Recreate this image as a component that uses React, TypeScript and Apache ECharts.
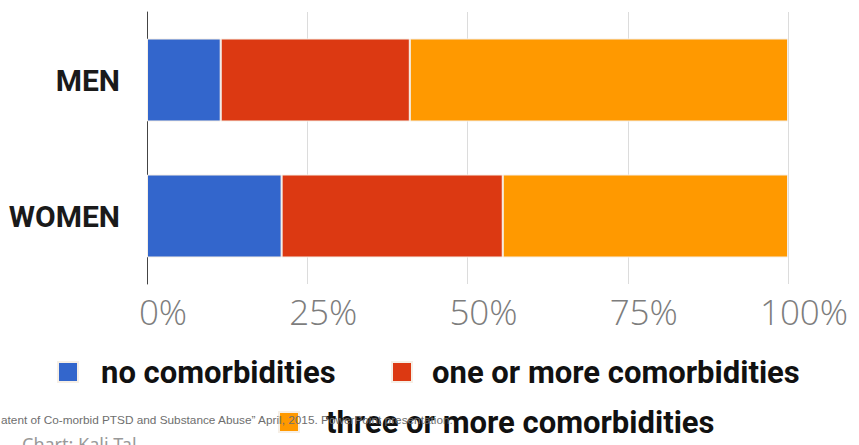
import React, { useEffect, useRef } from "react";
import * as echarts from "echarts";

const categories = ["MEN", "WOMEN"];
const seriesNames = ["no comorbidities", "one or more comorbidities", "three or more comorbidities"];
const noComorbidities = [11.5, 21];
const oneOrMore = [29.5, 34.5];
const threeOrMore = [59, 44.5];
const tickValues = [0, 25, 50, 75, 100];
const colors = ["#3366cc", "#dc3912", "#ff9900"];
const sourceText = "atent of Co-morbid PTSD and Substance Abuse\u201d April, 2015. PowerPoint presentation.";
const creditText = "Chart: Kali Tal";

const boldFont = 'Roboto, "Noto Sans", sans-serif';

export default function App() {
  const ref = useRef<HTMLDivElement>(null);
  useEffect(() => {
    if (!ref.current) return;
    const chart = echarts.init(ref.current, null, { renderer: "svg" });
    const values = [noComorbidities, oneOrMore, threeOrMore];
    const legendPos = [
      { left: 57, top: 352, pad: 18 },
      { left: 391, top: 352, pad: 15 },
      { left: 278, top: 402, pad: 22 },
    ];
    chart.setOption({
      animation: false,
      backgroundColor: "#ffffff",
      grid: { left: 147, right: 71, top: 12, bottom: 161, containLabel: false, outerBoundsMode: "none" },
      xAxis: {
        type: "value",
        min: 0,
        max: 100,
        interval: 25,
        axisLine: { show: false },
        axisTick: { show: false },
        splitLine: { show: true, lineStyle: { color: "#dcdcdc", width: 1 } },
        axisLabel: {
          formatter: (v: number) => (tickValues.includes(v) ? v + "%" : ""),
          fontFamily: '"Open Sans", "Noto Sans", sans-serif',
          fontWeight: 300,
          fontSize: 35,
          color: "#7d7d7d",
          margin: 10,
          padding: [0, 0, 0, 32],
        },
      },
      yAxis: {
        type: "category",
        data: categories,
        inverse: true,
        axisLine: { show: true, lineStyle: { color: "#444", width: 1 } },
        axisTick: { show: false },
        axisLabel: {
          fontFamily: boldFont,
          fontWeight: "bold",
          fontSize: 30,
          color: "#1a1a1a",
          margin: 27,
        },
      },
      legend: seriesNames.map((n, i) => ({
        data: [{ name: n, icon: "rect" }],
        left: legendPos[i].left,
        top: legendPos[i].top,
        padding: 0,
        itemWidth: 20,
        itemHeight: 20,
        selectedMode: false,
        textStyle: {
          fontFamily: boldFont,
          fontWeight: "bold",
          fontSize: 31,
          color: "#111",
          lineHeight: 40,
          padding: [0, 0, 0, legendPos[i].pad],
        },
      })),
      graphic: [
        {
          type: "text",
          left: 1,
          top: 414,
          z: 100,
          style: {
            text: sourceText,
            fontFamily: '"Liberation Sans", sans-serif',
            fontSize: 11.8,
            fill: "#6e6e6e",
          },
        },
        {
          type: "text",
          left: 22,
          top: 435,
          z: 100,
          style: {
            text: creditText,
            fontFamily: '"Noto Sans", sans-serif',
            fontSize: 18,
            fill: "#999",
          },
        },
      ],
      series: seriesNames.map((n, i) => ({
        name: n,
        type: "bar",
        stack: "total",
        barWidth: 83,
        data: values[i],
        itemStyle: { color: colors[i], borderColor: "#f6efe6", borderWidth: 1 },
      })),
    });
    return () => chart.dispose();
  }, []);
  return (
    <div
      ref={ref}
      style={{ position: "fixed", left: 0, top: 0, width: 859, height: 445 }}
    />
  );
}
